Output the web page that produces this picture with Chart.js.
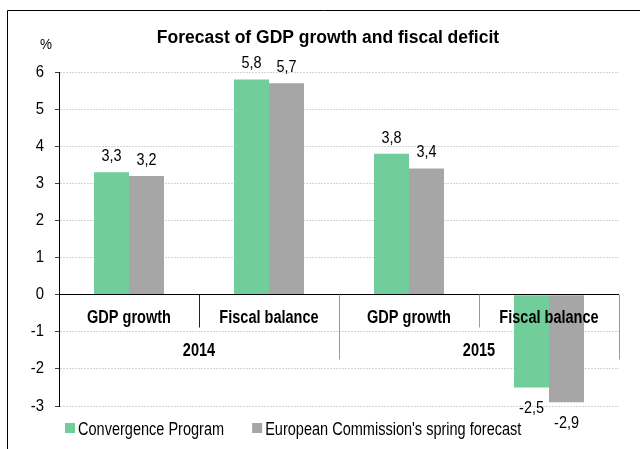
<!DOCTYPE html>
<html>
<head>
<meta charset="utf-8">
<script src="https://cdn.jsdelivr.net/npm/chart.js@4"></script>
<style>
  html, body { margin: 0; padding: 0; background: #fff; }
  canvas { display: block; }
</style>
</head>
<body>
<canvas id="chart" width="640" height="449"></canvas>
<script>
// Forecast values, percent
const categories = ['GDP growth', 'Fiscal balance', 'GDP growth', 'Fiscal balance'];
const years = ['2014', '2015'];
const convergenceProgram = [3.3, 5.8, 3.8, -2.5];
const commissionForecast = [3.2, 5.7, 3.4, -2.9];
const seriesNames = ['Convergence Program', "European Commission's spring forecast"];
const yMin = -3;
const yMax = 6;
const yStep = 1;

const seriesColors = ['#71CE9B', '#A6A6A6'];
const SANS = '"Liberation Sans", Arial, sans-serif';
const NARROW_SCALE = 0.83; // condensed lettering, like Arial Narrow
const NUM_SCALE = 0.9;     // slightly condensed numerals

const fmt = v => v.toFixed(1).replace('.', ',');
const crisp = p => Math.round(p - 0.5) + 0.5;

// draw text squeezed horizontally by `sx`
function text(ctx, str, x, y, font, align, sx, baseline) {
  ctx.save();
  ctx.font = font;
  ctx.textAlign = align;
  ctx.textBaseline = baseline || 'alphabetic';
  ctx.fillStyle = '#000';
  ctx.translate(x, y);
  ctx.scale(sx, 1);
  ctx.fillText(str, 0, 0);
  const w = ctx.measureText(str).width * sx;
  ctx.restore();
  return w;
}

const decorations = {
  id: 'decorations',
  beforeDraw(chart) {
    const ctx = chart.ctx;
    ctx.save();
    ctx.fillStyle = '#fff';
    ctx.fillRect(0, 0, chart.width, chart.height);
    // outer frame (left and top edges)
    ctx.strokeStyle = '#000';
    ctx.lineWidth = 1;
    ctx.beginPath();
    ctx.moveTo(7.5, chart.height);
    ctx.lineTo(7.5, 10.5);
    ctx.lineTo(chart.width, 10.5);
    ctx.stroke();
    ctx.restore();
    // title and unit
    text(ctx, 'Forecast of GDP growth and fiscal deficit', 328, 43, 'bold 17.5px ' + SANS, 'center', 1);
    text(ctx, '%', 46, 49, '15px ' + SANS, 'center', 0.9);
  },
  afterDraw(chart) {
    // y tick labels, condensed numerals right-aligned beside the tick marks
    const ys = chart.scales.y;
    ys.ticks.forEach((t) => {
      const py = ys.getPixelForValue(t.value);
      text(chart.ctx, String(t.value), 44, py, '16.5px ' + SANS, 'right', NUM_SCALE, 'middle');
    });
  },
  afterDatasetsDraw(chart) {
    const { ctx, chartArea } = chart;
    const xs = chart.scales.x;
    const ys = chart.scales.y;
    const y0 = crisp(ys.getPixelForValue(0));

    // value labels
    chart.data.datasets.forEach((ds, di) => {
      const meta = chart.getDatasetMeta(di);
      meta.data.forEach((bar, i) => {
        const v = ds.data[i];
        const ty = v >= 0 ? bar.y - 11 : bar.y + 26;
        text(ctx, fmt(v), bar.x, ty, '16px ' + SANS, 'center', NUM_SCALE);
      });
    });

    ctx.save();
    // zero line
    ctx.strokeStyle = '#000';
    ctx.lineWidth = 1;
    ctx.beginPath();
    ctx.moveTo(chartArea.left, y0);
    ctx.lineTo(chartArea.right, y0);
    ctx.stroke();

    // category separators below the zero line
    const n = categories.length;
    for (let i = 0; i < n; i++) {
      const bx = i < n - 1
        ? (xs.getPixelForValue(i) + xs.getPixelForValue(i + 1)) / 2
        : chartArea.right;
      const yearEdge = (i % 2 === 1);
      ctx.strokeStyle = i === 0 ? '#222' : '#9a9a9a';
      ctx.beginPath();
      ctx.moveTo(crisp(bx), y0);
      ctx.lineTo(crisp(bx), y0 + (yearEdge ? 65 : 33));
      ctx.stroke();
    }
    ctx.restore();

    // category labels
    const boldNarrow = 'bold 17.5px ' + SANS;
    categories.forEach((c, i) => {
      text(ctx, c, xs.getPixelForValue(i), y0 + 28.5, boldNarrow, 'center', NARROW_SCALE);
    });
    // year labels, centred under each pair of categories
    years.forEach((yr, k) => {
      const a = chartArea.left + (chartArea.right - chartArea.left) * (k * 2) / n;
      const b = chartArea.left + (chartArea.right - chartArea.left) * (k * 2 + 2) / n;
      text(ctx, yr, (a + b) / 2, y0 + 61, boldNarrow, 'center', NARROW_SCALE);
    });

    // legend
    let lx = 65;
    chart.data.datasets.forEach((ds) => {
      ctx.save();
      ctx.fillStyle = ds.backgroundColor;
      ctx.fillRect(lx, 423, 10, 10);
      ctx.restore();
      const w = text(ctx, ds.label, lx + 13, 435, '17.5px ' + SANS, 'left', 0.83);
      lx += 13 + w + 28;
    });
  }
};

new Chart(document.getElementById('chart'), {
  type: 'bar',
  data: {
    labels: categories,
    datasets: [
      { label: seriesNames[0], data: convergenceProgram, backgroundColor: seriesColors[0],
        borderWidth: 0, categoryPercentage: 0.5, barPercentage: 1.0 },
      { label: seriesNames[1], data: commissionForecast, backgroundColor: seriesColors[1],
        borderWidth: 0, categoryPercentage: 0.5, barPercentage: 1.0 }
    ]
  },
  options: {
    responsive: false,
    animation: false,
    devicePixelRatio: 1,
    layout: { padding: { top: 72, right: 21, bottom: 43, left: 0 } },
    plugins: {
      legend: { display: false },
      title: { display: false },
      tooltip: { enabled: false }
    },
    scales: {
      x: { display: false, offset: true },
      y: {
        min: yMin,
        max: yMax,
        afterFit(scale) { scale.width = 59; },
        // labels are painted by the plugin so they can be condensed
        ticks: { stepSize: yStep, color: 'rgba(0,0,0,0)', font: { family: SANS, size: 15.5 }, padding: 11 },
        grid: { color: '#d4d4d4', lineWidth: 1, tickLength: 4, tickColor: '#404040', drawTicks: true },
        border: { display: true, color: '#000', width: 1, dash: [2, 1] }
      }
    }
  },
  plugins: [decorations]
});
</script>
</body>
</html>
